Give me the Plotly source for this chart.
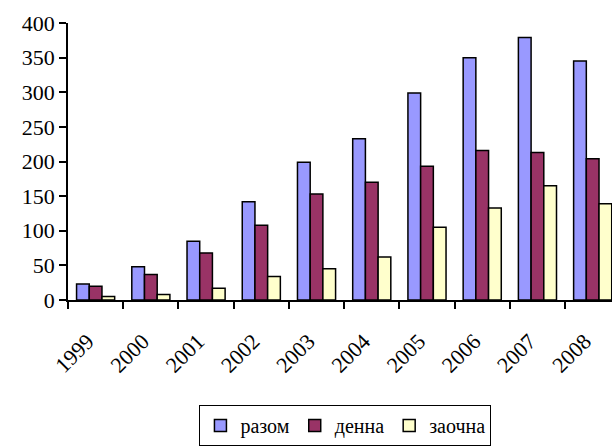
import plotly.graph_objects as go

years = ["1999", "2000", "2001", "2002", "2003", "2004", "2005", "2006", "2007", "2008"]
razom = [23, 48, 85, 142, 199, 233, 299, 350, 379, 345]
denna = [20, 37, 68, 108, 153, 170, 193, 216, 213, 204]
zaochna = [5, 8, 17, 34, 45, 62, 105, 133, 165, 139]

series_names = ["разом", "денна", "заочна"]
colors = ["#9999FF", "#993366", "#FFFFCC"]

fig = go.Figure()
for name, vals, col in zip(series_names, [razom, denna, zaochna], colors):
    fig.add_trace(go.Bar(
        x=years, y=vals, name=name,
        marker=dict(color=col, line=dict(color="black", width=1.5)),
    ))

fig.update_layout(
    width=612, height=446,
    font=dict(family="Liberation Serif", size=22, color="black"),
    margin=dict(l=68, r=0, t=23, b=143),
    paper_bgcolor="white", plot_bgcolor="white",
    barmode="group", bargap=0.31,
    showlegend=True,
    legend=dict(
        orientation="h", x=0.51, xanchor="center", y=-0.379, yanchor="top",
        bordercolor="black", borderwidth=1, bgcolor="white",
        font=dict(family="Liberation Serif", size=20),
    ),
)
fig.update_xaxes(
    tickfont=dict(family="Liberation Serif", size=22),
    type="category", range=[-0.5, 9.35],
    showline=True, linecolor="black", linewidth=1.5,
    ticks="outside", tickson="boundaries", ticklen=7, tickcolor="black", tickwidth=1.5,
    tickangle=-45, showgrid=False,
    ticklabelstandoff=18, ticklabelshift=-8,
)
fig.update_yaxes(
    tickfont=dict(family="Liberation Serif", size=22),
    range=[0, 400], dtick=50,
    showline=True, linecolor="black", linewidth=1.5,
    ticks="outside", ticklen=7, tickcolor="black", tickwidth=1.5,
    showgrid=False, zeroline=False,
)

fig.write_html("out.html")
